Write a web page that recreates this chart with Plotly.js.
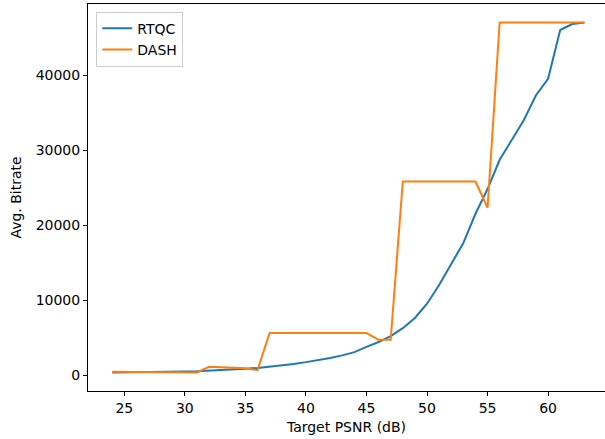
<!DOCTYPE html>
<html>
<head>
<meta charset="utf-8">
<script src="https://cdn.plot.ly/plotly-3.0.1.min.js"></script>
<style>html,body{margin:0;padding:0;background:#fff;}#chart{width:605px;height:439px;}</style>
</head>
<body>
<div id="chart"></div>
<script>
const psnr = [24,25,26,27,28,29,30,31,32,33,34,35,36,37,38,39,40,41,42,43,44,45,46,47,48,49,50,51,52,53,54,55,56,57,58,59,60,61,62,63];
const rtqc = [350,360,380,400,420,450,480,520,580,650,730,830,950,1100,1280,1480,1720,1980,2270,2620,3050,3750,4400,5200,6250,7600,9500,12000,14900,17600,21500,24800,28700,31400,34000,37300,39500,46000,46800,47000];
const dash = [450,450,450,450,450,450,450,350,1100,1050,1000,900,650,5600,5600,5600,5600,5600,5600,5600,5600,5600,4700,4700,25800,25800,25800,25800,25800,25800,25800,22300,47000,47000,47000,47000,47000,47000,47000,47000];
const seriesNames = ['RTQC','DASH'];
const xTitle = 'Target PSNR (dB)';
const yTitle = 'Avg. Bitrate';

const font = {family: 'DejaVu Sans, sans-serif', size: 14, color: '#000'};
const traces = [
  {x: psnr, y: rtqc, name: seriesNames[0], mode: 'lines', line: {color: '#1f77b4', width: 2}},
  {x: psnr, y: dash, name: seriesNames[1], mode: 'lines', line: {color: '#ff7f0e', width: 2}}
];
const layout = {
  width: 605, height: 439,
  margin: {l: 88, r: 0, t: 4, b: 48},
  paper_bgcolor: '#fff', plot_bgcolor: '#fff',
  font: font,
  showlegend: true,
  legend: {
    x: 0.016, y: 0.98, xanchor: 'left', yanchor: 'top',
    bgcolor: 'rgba(255,255,255,0.8)', bordercolor: '#cccccc', borderwidth: 1,
    font: font,
    itemwidth: 30, tracegroupgap: 2
  },
  xaxis: {
    range: [22.0, 64.7], tick0: 25, dtick: 5,
    showgrid: false, zeroline: false,
    showline: true, linecolor: '#000', linewidth: 1, mirror: true,
    ticks: 'outside', ticklen: 4, tickcolor: '#000', tickwidth: 1,
    tickfont: font,
    title: {text: xTitle, font: font, standoff: 7}
  },
  yaxis: {
    range: [-2130, 49470], tick0: 0, dtick: 10000, tickformat: 'd',
    showgrid: false, zeroline: false,
    showline: true, linecolor: '#000', linewidth: 1,
    ticks: 'outside', ticklen: 4, tickcolor: '#000', tickwidth: 1,
    tickfont: font,
    title: {text: yTitle, font: font, standoff: 10}
  }
};
Plotly.newPlot('chart', traces, layout, {displayModeBar: false, staticPlot: true});
</script>
</body>
</html>
